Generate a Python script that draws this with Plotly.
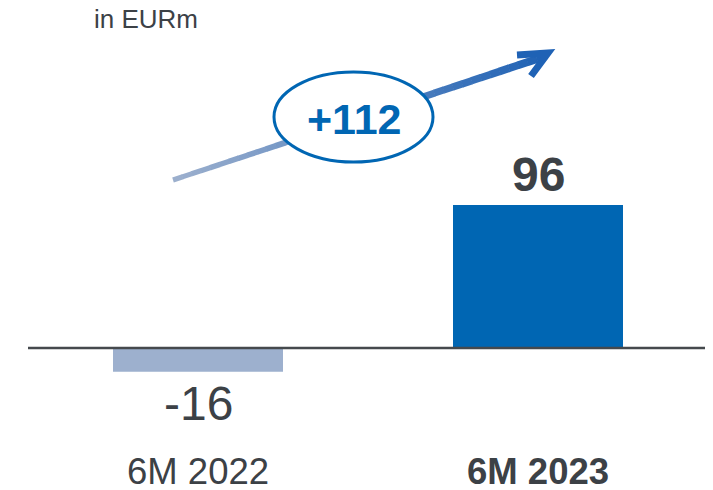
import plotly.graph_objects as go

categories = ["6M 2022", "6M 2023"]
values = [-16, 96]
value_labels = ["-16", "96"]
bar_colors = ["#9DB0CE", "#0066B3"]
change_label = "+112"
unit_label = "in EURm"

OFF = 8  # page body margin
W, H = 713 - OFF, 490 - OFF
TXT = "#3c4146"
FONT = "Liberation Sans, Arial, sans-serif"

def px(x, y):
    return (x - OFF) / W, 1 - (y - OFF) / H

BASE = 348 - OFF
SCALE = 1.49
C0 = 198 - OFF

fig = go.Figure()
fig.add_trace(go.Bar(x=[0, 1], y=values, width=0.5, marker=dict(color=bar_colors, line=dict(width=0)),
                     hoverinfo="skip"))

shapes = []
shapes.append(dict(type="line", xref="paper", yref="y", x0=px(28, 0)[0], x1=1, y0=0, y1=0,
                   line=dict(color="#45494d", width=2.5), layer="above"))

# gradient arrow shaft
x0p, y0p, x1p, y1p = 173, 180, 546, 56
c0 = (0x9D, 0xB0, 0xCE)
c1 = (0x1F, 0x62, 0xB5)
N = 40
for i in range(N):
    t0, t1 = i / N, (i + 1.05) / N
    t = (i + 0.5) / N
    col = "rgb(%d,%d,%d)" % tuple(int(a + (b - a) * t) for a, b in zip(c0, c1))
    ax, ay = px(x0p + (x1p - x0p) * t0, y0p + (y1p - y0p) * t0)
    bx, by = px(x0p + (x1p - x0p) * min(t1, 1), y0p + (y1p - y0p) * min(t1, 1))
    shapes.append(dict(type="line", xref="paper", yref="paper", x0=ax, y0=ay, x1=bx, y1=by,
                       line=dict(color=col, width=5 + 3 * t)))
pts = [(517, 55), (548, 53), (531, 76)]
path = "M " + " L ".join("%f %f" % px(*p) for p in pts)
shapes.append(dict(type="path", xref="paper", yref="paper", path=path,
                   line=dict(color="#1F62B5", width=7)))
ex0, ey0 = px(274, 72)
ex1, ey1 = px(433, 162)
shapes.append(dict(type="circle", xref="paper", yref="paper", x0=ex0, y0=ey1, x1=ex1, y1=ey0,
                   fillcolor="white", line=dict(color="#0066B3", width=3)))

annotations = []
cx, cy = px(354, 119)
annotations.append(dict(text="<b>%s</b>" % change_label, xref="paper", yref="paper",
                        x=cx, y=cy, showarrow=False,
                        font=dict(family=FONT, size=43, color="#0066B3"),
                        xanchor="center", yanchor="middle"))
ux, uy = px(92, 19)
annotations.append(dict(text=unit_label, xref="paper", yref="paper", x=ux, y=uy,
                        showarrow=False, font=dict(family=FONT, size=26, color=TXT),
                        xanchor="left", yanchor="middle"))
for i, (v, lab) in enumerate(zip(values, value_labels)):
    if v >= 0:
        annotations.append(dict(text="<b>%s</b>" % lab, x=i, y=v, xref="x", yref="y", showarrow=False,
                                font=dict(family=FONT, size=48, color=TXT),
                                yanchor="bottom", yshift=2))
    else:
        annotations.append(dict(text=lab, x=i, y=v, xref="x", yref="y", showarrow=False,
                                font=dict(family=FONT, size=48, color=TXT),
                                yanchor="top", yshift=-3))
ly = px(0, 471)[1]
for i, c in enumerate(categories):
    t = "<b>%s</b>" % c if i == 1 else c
    annotations.append(dict(text=t, x=i, xref="x", yref="paper", y=ly, showarrow=False,
                            font=dict(family=FONT, size=36.5, color=TXT), yanchor="middle"))

fig.update_layout(
    width=W, height=H, margin=dict(l=0, r=0, t=0, b=0),
    paper_bgcolor="white", plot_bgcolor="white", showlegend=False,
    xaxis=dict(range=[-C0 / 340, (W - C0) / 340], visible=False, fixedrange=True),
    yaxis=dict(range=[-(H - BASE) / SCALE, BASE / SCALE], visible=False, fixedrange=True),
    shapes=shapes, annotations=annotations,
)
fig.write_html("out.html")
